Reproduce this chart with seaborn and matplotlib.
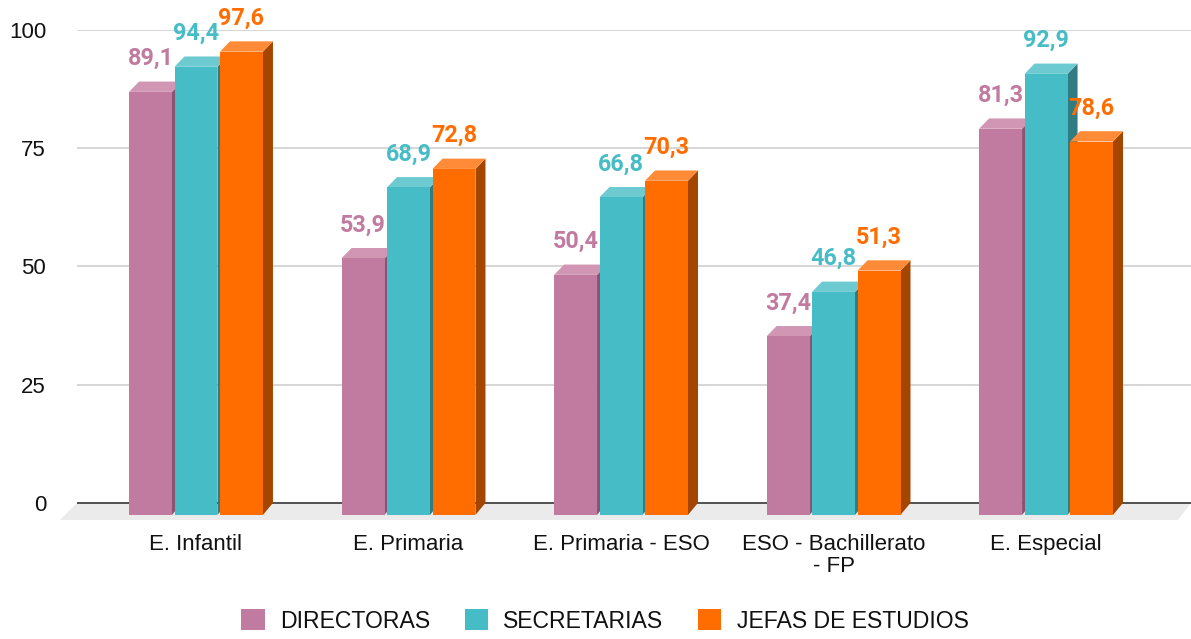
import matplotlib
matplotlib.use("Agg")
import matplotlib.pyplot as plt
from matplotlib.patches import Polygon, Patch
import pandas as pd
import seaborn as sns

# Datos
categorias = ["E. Infantil", "E. Primaria", "E. Primaria - ESO",
              "ESO - Bachillerato\n- FP", "E. Especial"]
series = ["DIRECTORAS", "SECRETARIAS", "JEFAS DE ESTUDIOS"]
directoras = [89.1, 53.9, 50.4, 37.4, 81.3]
secretarias = [94.4, 68.9, 66.8, 46.8, 92.9]
jefas = [97.6, 72.8, 70.3, 51.3, 78.6]

colores = {"DIRECTORAS": "#c27ba0", "SECRETARIAS": "#46bdc6", "JEFAS DE ESTUDIOS": "#ff6d01"}
techo = {"DIRECTORAS": "#d096b4", "SECRETARIAS": "#6dcad1", "JEFAS DE ESTUDIOS": "#ff8b38"}
lado = {"DIRECTORAS": "#8c5271", "SECRETARIAS": "#2f7c82", "JEFAS DE ESTUDIOS": "#a54600"}

df = pd.DataFrame({
    "categoria": categorias * 3,
    "serie": [s for s in series for _ in categorias],
    "valor": directoras + secretarias + jefas,
})

sns.set_theme(style="white")
plt.rcParams["font.family"] = ["Liberation Sans", "DejaVu Sans"]

W, H = 1191, 639
fig = plt.figure(figsize=(W / 100, H / 100), dpi=100)
ax_l, ax_r, ax_t, ax_b = 77, 1191, 30, 521.9
ax = fig.add_axes([ax_l / W, (H - ax_b) / H, (ax_r - ax_l) / W, (ax_b - ax_t) / H])

sns.barplot(data=df, x="categoria", y="valor", hue="serie", order=categorias,
            hue_order=series, palette=colores, saturation=1, width=0.642, gap=0.055,
            errorbar=None, legend=False, ax=ax)
barras = sorted(ax.patches, key=lambda r: r.get_x())

xmin, xmax = -0.607, 4.635
ymin, ymax = -4.017, 100
ax.set_xlim(xmin, xmax)
ax.set_ylim(ymin, ymax)
px_x = (ax_r - ax_l) / (xmax - xmin)
px_y = (ax_b - ax_t) / (ymax - ymin)

# desplazamiento 3D (pixeles)
dx = 10 / px_x
dy_bot = 12 / px_y
dy_top = 10.3 / px_y

# piso gris
piso = Polygon([(xmin, 0), (xmax, 0), (xmax - 13 / px_x, -17 / px_y), (xmin - 17 / px_x, -17 / px_y)],
               closed=True, facecolor="#ebebeb", edgecolor="none", clip_on=False, zorder=0.5)
ax.add_patch(piso)

for v in [25, 50, 75, 100]:
    ax.axhline(v, color="#cccccc", lw=1.1, zorder=0.8)
ax.axhline(0, color="#444444", lw=1.3, zorder=1)

for k, p in enumerate(barras):
    s = series[k % 3]
    x, w, h = p.get_x(), p.get_width(), p.get_height()
    base = 2 + k * 0.01
    ax.add_patch(Polygon([(x + w - dx, -dy_bot), (x + w, 0), (x + w, h), (x + w - dx, h - dy_top)],
                         closed=True, facecolor=lado[s], edgecolor="none", zorder=base))
    ax.add_patch(Polygon([(x - dx, h - dy_top), (x + w - dx, h - dy_top), (x + w, h), (x, h)],
                         closed=True, facecolor=techo[s], edgecolor="none", zorder=base + 0.001))
    p.set_xy((x - dx, -dy_bot))
    p.set_height(h + dy_bot - dy_top)
    p.set_edgecolor("none")
    p.set_linewidth(0)
    p.set_zorder(base + 0.002)
    ax.annotate(f"{h:.1f}".replace(".", ","), xy=(x + w / 2, h), xytext=(-10, 16.5),
                textcoords="offset pixels", ha="center", va="baseline", color=colores[s],
                fontsize=16.8, fontweight="bold", family=["Roboto", "DejaVu Sans"], zorder=10)

ax.set_xticks([i - dx for i in range(len(categorias))])
ax.set_xticklabels(categorias)
for t in ax.get_xticklabels():
    t.set_linespacing(1.1)
ax.set_yticks([0, 25, 50, 75, 100])
ax.set_yticklabels(["0", "25", "50", "75", "100"])
ax.tick_params(axis="x", length=0, pad=8.6, labelsize=16, labelcolor="#111111")
ax.tick_params(axis="y", length=0, pad=22.3, labelsize=16, labelcolor="#111111")
ax.set_xlabel("")
ax.set_ylabel("")
sns.despine(ax=ax, left=True, bottom=True)

handles = [Patch(facecolor=colores[s], edgecolor="none") for s in series]
fig.legend(handles, series, loc="center", bbox_to_anchor=(605 / W, 1 - 621 / H), ncol=3,
           frameon=False, fontsize=16.6, handlelength=1.0, handleheight=1.0,
           handletextpad=0.68, columnspacing=1.49, labelcolor="#111111")

fig.savefig("out.png", dpi=100)
